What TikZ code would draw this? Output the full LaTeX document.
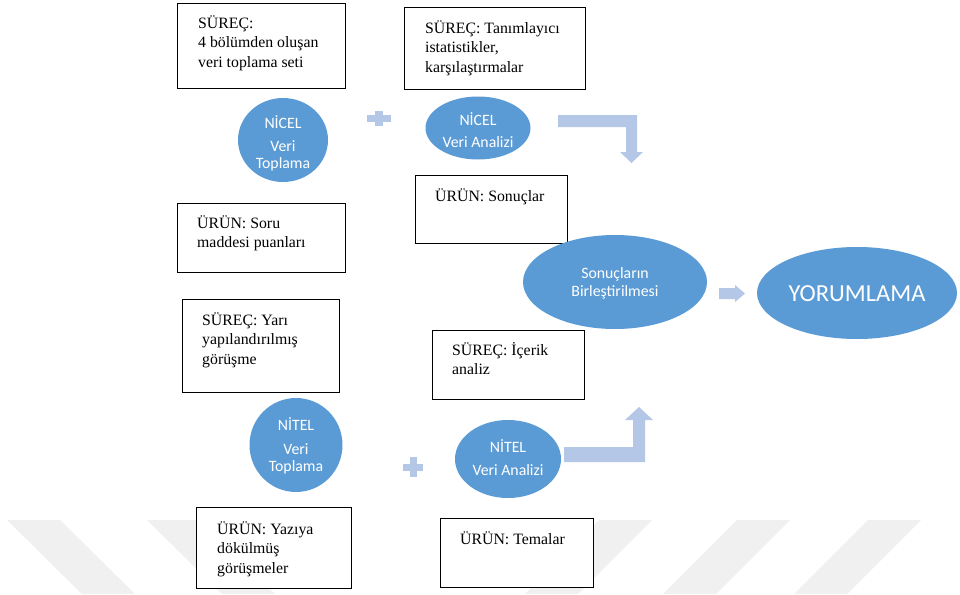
\documentclass[tikz,border=0pt]{standalone}
\usepackage{fontspec}
\setmainfont{Liberation Serif}
\newfontfamily\calib{Carlito}
\usetikzlibrary{shapes.geometric}
\definecolor{ellblue}{HTML}{5B9BD5}
\definecolor{arrblue}{HTML}{B4C7E7}
\definecolor{wmark}{HTML}{F0F0F0}
\begin{document}
\begin{tikzpicture}[x=1pt,y=-1pt,
 box/.style={draw=black, line width=1.4pt, fill=white, anchor=north west, inner sep=0pt},
 boxtext/.style={anchor=base west, align=left, inner sep=0pt, font=\fontsize{15.8}{19.5}\selectfont},
 ell/.style={ellipse, fill=ellblue, inner sep=0pt},
 elltext/.style={anchor=base, align=center, inner sep=0pt, text=white, font=\calib\fontsize{15.8}{16.5}\selectfont},
 blk/.style={fill=arrblue},
 wm/.style={fill=wmark}]
\useasboundingbox (0,0) rectangle (960,594);
\fill[white] (0,0) rectangle (960,594);
% watermark
\fill[wm] (7,520) -- (60,520) -- (135,594) -- (82,594) -- cycle;
\fill[wm] (147,520) -- (200,520) -- (275,594) -- (222,594) -- cycle;
\fill[wm] (599,520) -- (652,520) -- (578,594) -- (525,594) -- cycle;
\fill[wm] (737,520) -- (790,520) -- (716,594) -- (663,594) -- cycle;
\fill[wm] (868,520) -- (921,520) -- (847,594) -- (794,594) -- cycle;
% boxes
\node[box, minimum width=168pt, minimum height=85pt] (b1) at (177,3) {};
\node[box, minimum width=181pt, minimum height=82pt] (b2) at (404,7) {};
\node[box, minimum width=152pt, minimum height=68pt] (b3) at (415,175) {};
\node[box, minimum width=168pt, minimum height=69pt] (b4) at (177,203) {};
\node[box, minimum width=157pt, minimum height=93pt] (b5) at (182,299) {};
\node[box, minimum width=152pt, minimum height=69pt] (b6) at (432,330) {};
\node[box, minimum width=155pt, minimum height=81pt] (b7) at (196,507) {};
\node[box, minimum width=153pt, minimum height=69pt] (b8) at (440,518) {};
% box texts (anchor = baseline of the last line)
\node[boxtext] (t1) at (198,67) {SÜREÇ:\\4 bölümden oluşan\\veri toplama seti};
\node[boxtext] (t2) at (425,72) {SÜREÇ: Tanımlayıcı\\istatistikler,\\karşılaştırmalar};
\node[boxtext] (t3) at (435,201) {ÜRÜN: Sonuçlar};
\node[boxtext] (t4) at (197,247.5) {ÜRÜN: Soru\\maddesi puanları};
\node[boxtext] (t5) at (202,364) {SÜREÇ: Yarı\\yapılandırılmış\\görüşme};
\node[boxtext] (t6) at (452,374.5) {SÜREÇ: İçerik\\analiz};
\node[boxtext] (t7) at (217,573) {ÜRÜN: Yazıya\\dökülmüş\\görüşmeler};
\node[boxtext] (t8) at (460,544) {ÜRÜN: Temalar};
% ellipses
\node[ell, minimum width=90pt, minimum height=84pt] (e1) at (283,140) {};
\node[ell, minimum width=105pt, minimum height=63pt] (e2) at (478,128) {};
\node[ell, minimum width=184pt, minimum height=94pt] (e3) at (615,282) {};
\node[ell, minimum width=200pt, minimum height=92pt] (e4) at (857,293) {};
\node[ell, minimum width=93pt, minimum height=94pt] (e5) at (296,445) {};
\node[ell, minimum width=106pt, minimum height=78pt] (e6) at (508,459) {};
\node[elltext] (e1t) at (283,168) {NİCEL\\[7pt]Veri\\Toplama};
\node[elltext] (e2t) at (478,147.5) {NİCEL\\[6pt]Veri Analizi};
\node[elltext] (e3t) at (615,296.5) {Sonuçların\\[2pt]Birleştirilmesi};
\node[elltext, font=\calib\fontsize{24.5}{26}\selectfont] (e4t) at (857,301) {YORUMLAMA};
\node[elltext] (e5t) at (296,471) {NİTEL\\[8pt]Veri\\Toplama};
\node[elltext] (e6t) at (508,475.5) {NİTEL\\[7pt]Veri Analizi};
% block arrows and plus signs
\fill[blk] (558,115) -- (637,115) -- (637,152) -- (643,152) -- (631.5,163) -- (620,152) -- (626,152) -- (626,127) -- (558,127) -- cycle;
\fill[blk] (564,447) -- (633,447) -- (633,420) -- (625,420) -- (639,407) -- (653,420) -- (645,420) -- (645,462) -- (564,462) -- cycle;
\fill[blk] (719,288) -- (735,288) -- (735,285) -- (745,293.5) -- (735,302) -- (735,299) -- (719,299) -- cycle;
\fill[blk] (367,114.5) rectangle (391,121.5);
\fill[blk] (375,111) rectangle (383,126);
\fill[blk] (403,463.5) rectangle (423,470.5);
\fill[blk] (409.5,457) rectangle (416.5,477);
\end{tikzpicture}
\end{document}
